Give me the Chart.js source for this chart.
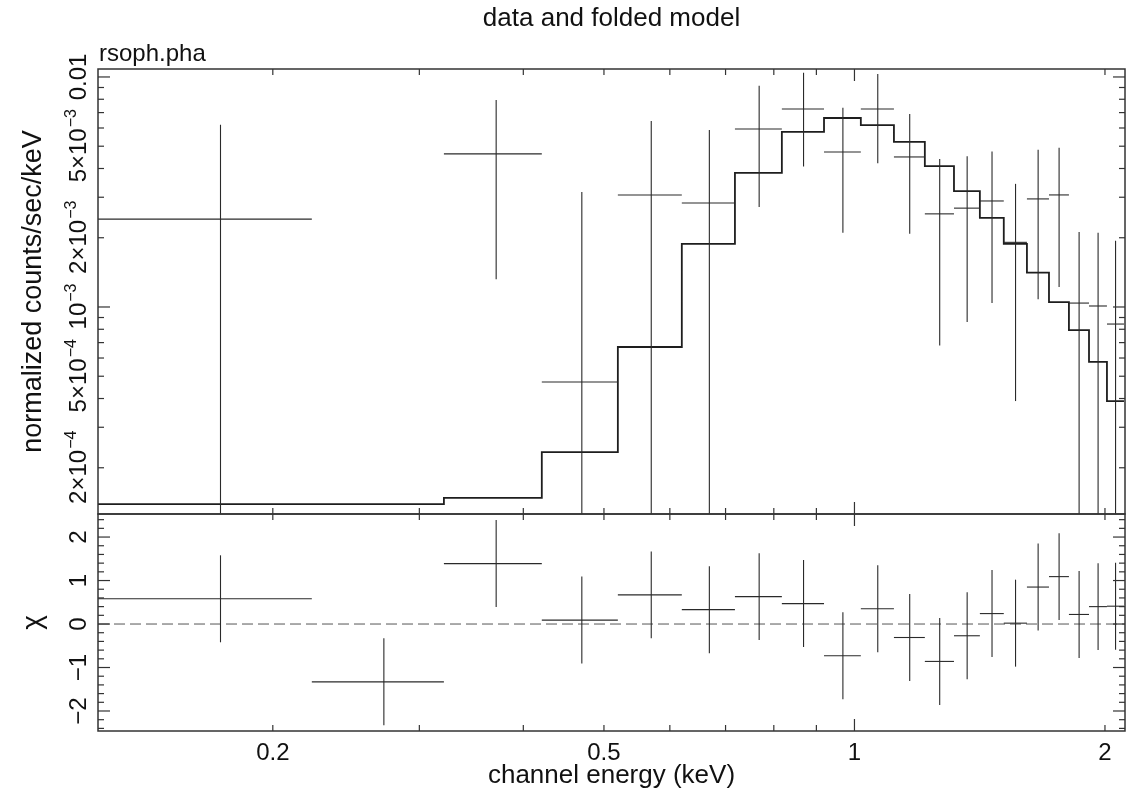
<!DOCTYPE html>
<html><head><meta charset="utf-8">
<script src="https://cdn.jsdelivr.net/npm/chart.js@4.4.1/dist/chart.umd.min.js"></script>
<style>
html,body{margin:0;padding:0;background:#fff;}
#wrap{position:relative;width:1132px;height:795px;overflow:hidden;}
canvas{position:absolute;left:0;top:0;}
</style></head><body>
<div id="wrap"><canvas id="topc" width="1132" height="795"></canvas><canvas id="botc" width="1132" height="795"></canvas></div>
<script>
// ---- data (keV bins) ----
const binEdges = [0.1233, 0.2228, 0.3211, 0.4210, 0.5196, 0.6202, 0.7184, 0.8180, 0.9192, 1.0178, 1.1154,
                  1.2150, 1.3170, 1.4148, 1.5116, 1.6116, 1.7130, 1.8102, 1.9136, 2.011, 2.108];
const modelCounts = [1.39e-4, 1.39e-4, 1.48e-4, 2.34e-4, 6.70e-4, 1.88e-3, 3.83e-3, 5.77e-3, 6.63e-3, 6.18e-3,
                     5.22e-3, 4.10e-3, 3.19e-3, 2.44e-3, 1.88e-3, 1.41e-3, 1.05e-3, 7.94e-4, 5.77e-4, 3.90e-4];
const dataCounts = [2.41e-3, null, 4.63e-3, 4.72e-4, 3.07e-3, 2.83e-3, 5.94e-3, 7.26e-3, 4.72e-3, 7.26e-3,
                    4.49e-3, 2.54e-3, 2.69e-3, 2.89e-3, 1.91e-3, 2.95e-3, 3.07e-3, 1.04e-3, 1.01e-3, 8.43e-4];
const dataErrors = [3.79e-3, null, 3.31e-3, 2.69e-3, 3.37e-3, 3.05e-3, 3.22e-3, 3.18e-3, 2.62e-3, 3.04e-3,
                    2.41e-3, 1.86e-3, 1.83e-3, 1.85e-3, 1.52e-3, 1.87e-3, 1.85e-3, 1.08e-3, 1.09e-3, 1.10e-3];
const chiValues = [0.58, -1.33, 1.39, 0.09, 0.67, 0.33, 0.63, 0.47, -0.73, 0.35,
                   -0.31, -0.86, -0.27, 0.24, 0.02, 0.85, 1.09, 0.22, 0.40, 0.41];
const chiErrors = [1,1,1,1,1,1,1,1,1,1, 1,1,1,1,1,1,1,1,1,1];

// ---- axes ----
const xRange = [0.1233, 2.114];
const yRange = [1.259e-4, 0.01083];
const chiRange = [-2.46, 2.53];
const xTickValues = [0.2, 0.5, 1, 2];
const xTickLabels = ['0.2', '0.5', '1', '2'];
const yTickValues = [2e-4, 5e-4, 1e-3, 2e-3, 5e-3, 1e-2];
const yTickLabels = ['2×10^−4', '5×10^−4', '10^−3', '2×10^−3', '5×10^−3', '0.01'];
const chiTickValues = [-2, -1, 0, 1, 2];
const chiTickLabels = ['−2', '−1', '0', '1', '2'];
const titleText = 'data and folded model';
const fileText = 'rsoph.pha';
const xTitle = 'channel energy (keV)';
const yTitle = 'normalized counts/sec/keV';
const chiTitle = 'χ';

const FONT = '"Liberation Sans", Arial, Helvetica, sans-serif';
const INK = '#1e1e1e';
const MAJ = 12, MIN = 6;

// tick positions for decorations
const xMajorTicks = [1];
const xMinorTicks = [0.2,0.3,0.4,0.5,0.6,0.7,0.8,0.9,2];
const yMajorTicks = [1e-3, 1e-2];
const yMinorTicks = [];
[1e-4,1e-3].forEach(d => { for (let k = 2; k <= 9; k++) yMinorTicks.push(k*d); });
const chiMinorTicks = [];
for (let k = -12; k <= 12; k++) if (k % 5 !== 0) chiMinorTicks.push(k/5);

function rotText(ctx, txt, x, y, font) {
  ctx.save(); ctx.translate(x, y); ctx.rotate(-Math.PI/2);
  ctx.font = font; ctx.textAlign = 'center'; ctx.textBaseline = 'alphabetic';
  ctx.fillText(txt, 0, 0); ctx.restore();
}
function rotSci(ctx, label, x, y, size) {
  const parts = label.split('^');
  const mainF = size + 'px ' + FONT, supF = Math.round(size*0.68) + 'px ' + FONT;
  ctx.save(); ctx.translate(x, y); ctx.rotate(-Math.PI/2);
  ctx.textAlign = 'left'; ctx.textBaseline = 'alphabetic';
  ctx.font = mainF; const w1 = ctx.measureText(parts[0]).width;
  let w2 = 0; if (parts[1]) { ctx.font = supF; w2 = ctx.measureText(parts[1]).width; }
  const u0 = -(w1 + w2)/2;
  ctx.font = mainF; ctx.fillText(parts[0], u0, 0);
  if (parts[1]) { ctx.font = supF; ctx.fillText(parts[1], u0 + w1 + 1, -size*0.42); }
  ctx.restore();
}
function line(ctx, x0, y0, x1, y1) { ctx.beginPath(); ctx.moveTo(x0, y0); ctx.lineTo(x1, y1); ctx.stroke(); }

function drawFrame(chart, yMaj, yMin) {
  const {ctx, chartArea: a, scales: {x, y}} = chart;
  ctx.save();
  ctx.strokeStyle = '#333'; ctx.lineWidth = 1.5;
  ctx.strokeRect(a.left, a.top, a.right - a.left, a.bottom - a.top);
  ctx.lineWidth = 1.2;
  const xt = (v, len) => { const p = x.getPixelForValue(v); line(ctx, p, a.bottom, p, a.bottom - len); line(ctx, p, a.top, p, a.top + len); };
  xMajorTicks.forEach(v => xt(v, MAJ)); xMinorTicks.forEach(v => xt(v, MIN));
  const yt = (v, len) => { const p = y.getPixelForValue(v); if (p < a.top - 0.5 || p > a.bottom + 0.5) return; line(ctx, a.left, p, a.left + len, p); line(ctx, a.right, p, a.right - len, p); };
  yMaj.forEach(v => yt(v, MAJ)); yMin.forEach(v => yt(v, MIN));
  ctx.restore();
}

function drawCrosses(chart, vals, errs, isLog) {
  const {ctx, chartArea: a, scales: {x, y}} = chart;
  ctx.save();
  ctx.beginPath(); ctx.rect(a.left, a.top, a.right - a.left, a.bottom - a.top); ctx.clip();
  ctx.strokeStyle = '#2a2a2a'; ctx.lineWidth = 1.1;
  for (let i = 0; i < vals.length; i++) {
    const v = vals[i], e = errs[i];
    if (v === null) continue;
    const lo = binEdges[i], hi = binEdges[i+1], c = (lo + hi)/2;
    const px0 = x.getPixelForValue(lo), px1 = x.getPixelForValue(hi), pc = x.getPixelForValue(c);
    const py = y.getPixelForValue(v);
    const pTop = y.getPixelForValue(v + e);
    const pBot = (isLog && v - e <= 0) ? a.bottom + 10 : y.getPixelForValue(v - e);
    line(ctx, px0, py, px1, py);
    line(ctx, pc, pTop, pc, pBot);
  }
  ctx.restore();
}

const topPlugin = {
  id: 'topDeco',
  afterDatasetsDraw(chart) { drawCrosses(chart, dataCounts, dataErrors, true); },
  afterDraw(chart) {
    const {ctx, chartArea: a, scales: {y}} = chart;
    drawFrame(chart, yMajorTicks, yMinorTicks);
    ctx.save(); ctx.fillStyle = '#111';
    ctx.font = '26px ' + FONT; ctx.textAlign = 'center'; ctx.textBaseline = 'alphabetic';
    ctx.fillText(titleText, (a.left + a.right)/2, 26);
    ctx.textAlign = 'left'; ctx.font = '24px ' + FONT;
    ctx.fillText(fileText, a.left + 1, 61);
    yTickValues.forEach((v, i) => rotSci(ctx, yTickLabels[i], 86, y.getPixelForValue(v), 24));
    rotText(ctx, yTitle, 41, (a.top + a.bottom)/2, '27px ' + FONT);
    ctx.restore();
  }
};
const botPlugin = {
  id: 'botDeco',
  afterDatasetsDraw(chart) { drawCrosses(chart, chiValues, chiErrors, false); },
  afterDraw(chart) {
    const {ctx, chartArea: a, scales: {x, y}} = chart;
    drawFrame(chart, chiTickValues, chiMinorTicks);
    ctx.save(); ctx.fillStyle = '#111';
    ctx.font = '24px ' + FONT; ctx.textAlign = 'center'; ctx.textBaseline = 'alphabetic';
    xTickValues.forEach((v, i) => ctx.fillText(xTickLabels[i], x.getPixelForValue(v), 760));
    ctx.font = '26px ' + FONT;
    ctx.fillText(xTitle, (a.left + a.right)/2, 783);
    chiTickValues.forEach((v, i) => rotText(ctx, chiTickLabels[i], 86, y.getPixelForValue(v), '24px ' + FONT));
    rotText(ctx, chiTitle, 41, (a.top + a.bottom)/2, '28px ' + FONT);
    ctx.restore();
  }
};

// model histogram as step line
const modelPts = modelCounts.map((m, i) => ({x: binEdges[i], y: m}));
modelPts.push({x: binEdges[binEdges.length - 1], y: modelCounts[modelCounts.length - 1]});
const dataCentres = dataCounts.map((v, i) => ({x: (binEdges[i] + binEdges[i+1])/2, y: v}));
const chiCentres = chiValues.map((v, i) => ({x: (binEdges[i] + binEdges[i+1])/2, y: v}));

const common = {
  responsive: false, animation: false, devicePixelRatio: 1,
  plugins: {legend: {display: false}, tooltip: {enabled: false}, title: {display: false}},
  events: []
};

new Chart(document.getElementById('topc'), {
  type: 'line',
  data: {datasets: [
    {data: modelPts, stepped: 'before', borderColor: INK, borderWidth: 1.8, pointRadius: 0, fill: false},
    {data: dataCentres, showLine: false, pointRadius: 0}
  ]},
  options: Object.assign({}, common, {
    layout: {padding: {left: 98, right: 7, top: 69, bottom: 281}},
    scales: {
      x: {type: 'logarithmic', min: xRange[0], max: xRange[1], display: false},
      y: {type: 'logarithmic', min: yRange[0], max: yRange[1], display: false}
    }
  }),
  plugins: [topPlugin]
});

new Chart(document.getElementById('botc'), {
  type: 'line',
  data: {datasets: [
    {data: [{x: xRange[0], y: 0}, {x: xRange[1], y: 0}], borderColor: '#555', borderWidth: 1, borderDash: [11, 5], pointRadius: 0, fill: false},
    {data: chiCentres, showLine: false, pointRadius: 0}
  ]},
  options: Object.assign({}, common, {
    layout: {padding: {left: 98, right: 7, top: 514, bottom: 64}},
    scales: {
      x: {type: 'logarithmic', min: xRange[0], max: xRange[1], display: false},
      y: {type: 'linear', min: chiRange[0], max: chiRange[1], display: false}
    }
  }),
  plugins: [botPlugin]
});
</script>
</body></html>
